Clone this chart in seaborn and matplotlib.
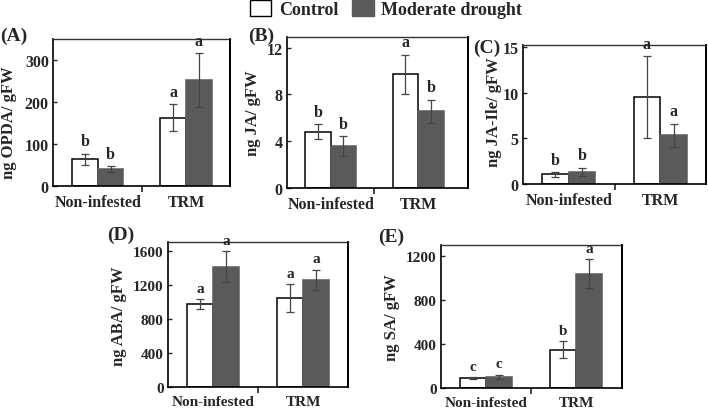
import matplotlib
matplotlib.use("Agg")
import matplotlib.pyplot as plt
import seaborn as sns
import pandas as pd
from matplotlib.patches import Patch
from matplotlib.ticker import FixedLocator

sns.set_style("ticks")
plt.rcParams['font.family'] = ['Liberation Serif', 'DejaVu Serif']
plt.rcParams['font.weight'] = 'bold'

categories = ["Non-infested", "TRM"]
treatments = ["Control", "Moderate drought"]

opda_mean = [[64, 163], [40, 252]]
opda_err = [[13, 33], [7, 65]]
opda_letters = [["b", "a"], ["b", "a"]]

ja_mean = [[4.8, 9.7], [3.55, 6.55]]
ja_err = [[0.65, 1.7], [0.85, 1.0]]
ja_letters = [["b", "a"], ["b", "b"]]

jaile_mean = [[1.05, 9.5], [1.35, 5.35]]
jaile_err = [[0.25, 4.45], [0.45, 1.25]]
jaile_letters = [["b", "a"], ["b", "a"]]

aba_mean = [[980, 1050], [1420, 1265]]
aba_err = [[60, 165], [185, 120]]
aba_letters = [["a", "a"], ["a", "a"]]

sa_mean = [[90, 350], [100, 1040]]
sa_err = [[10, 80], [22, 135]]
sa_letters = [["c", "b"], ["c", "a"]]

panels = [
    ("(A)", "ng OPDA/ gFW", opda_mean, opda_err, opda_letters, [0, 100, 200, 300], 350,
     (53, 230, 40, 187), (-0.51, 1.5), (0, 28), (9, 123), 11.5),
    ("(B)", "ng JA/ gFW", ja_mean, ja_err, ja_letters, [0, 4, 8, 12], 12.9,
     (287, 468, 38, 189), (-0.5, 1.57), (248, 28), (253, 113), 11.5),
    ("(C)", "ng JA-Ile/ gFW", jaile_mean, jaile_err, jaile_letters, [0, 5, 10, 15], 15.2,
     (523, 706, 46, 185), (-0.5, 1.5), (473, 40), (494, 112), 11.5),
    ("(D)", "ng ABA/ gFW", aba_mean, aba_err, aba_letters, [0, 400, 800, 1200, 1600], 1710,
     (168, 348, 243, 388), (-0.5, 1.5), (107, 227), (119, 316), 11),
    ("(E)", "ng SA/ gFW", sa_mean, sa_err, sa_letters, [0, 400, 800, 1200], 1300,
     (441, 622, 246, 389), (-0.5, 1.51), (378, 229), (392, 318), 11),
]

W, H = 708, 414
fig = plt.figure(figsize=(W / 100, H / 100), dpi=100)
colors = {"Control": "white", "Moderate drought": "#5a5a5a"}

for label, ylab, mean, err, letters, yticks, ytop, (l, r, t, b), xlim, lab_pos, ylab_pos, fs in panels:
    ax = fig.add_axes([l / W, (H - b) / H, (r - l) / W, (b - t) / H])
    rows = []
    for ti, tr in enumerate(treatments):
        for ci, cat in enumerate(categories):
            rows.append({"cat": cat, "trt": tr, "val": mean[ti][ci]})
    df = pd.DataFrame(rows)
    sns.barplot(data=df, x="cat", y="val", hue="trt", order=categories, hue_order=treatments,
                palette=colors, width=0.58, errorbar=None, legend=False, ax=ax,
                edgecolor="black", linewidth=1.1)
    bars = ax.patches
    k = 0
    for ti, tr in enumerate(treatments):
        for ci, cat in enumerate(categories):
            p = bars[k]
            k += 1
            if tr == "Moderate drought":
                p.set_edgecolor("#5a5a5a")
            cx = p.get_x() + p.get_width() / 2
            v = mean[ti][ci]
            e = err[ti][ci]
            ax.errorbar(cx, v, yerr=e, color="#444444", lw=0.9, capsize=3, capthick=0.9)
            ax.annotate(letters[ti][ci], (cx, v + e), xytext=(0, 3), textcoords="offset points",
                        ha="center", va="bottom", fontsize=fs, fontweight="bold")
    ax.set_xlim(*xlim)
    ax.set_ylim(0, ytop)
    ax.set_yticks(yticks)
    ax.set_xticks([0, 1])
    ax.set_xticklabels(categories, fontsize=fs, fontweight="bold")
    ax.xaxis.set_minor_locator(FixedLocator([0.5]))
    ax.tick_params(axis="x", which="major", length=0, pad=6)
    ax.tick_params(axis="x", which="minor", length=4, width=1.2, direction="out")
    ax.tick_params(axis="y", direction="in", length=3, width=1, labelsize=fs, pad=3)
    for tl in ax.get_yticklabels():
        tl.set_fontweight("bold")
    ax.set_xlabel("")
    ax.set_ylabel("")
    for s in ["left", "bottom", "right", "top"]:
        ax.spines[s].set_visible(True)
        ax.spines[s].set_linewidth(1.2)
        ax.spines[s].set_color("black")
    ax.spines["top"].set_linewidth(1.0)
    ax.spines["top"].set_color("#333333")
    # explicit right border
    ax.plot([1, 1], [0, 1], transform=ax.transAxes, color="black", lw=1.3,
            clip_on=False, zorder=5)
    fig.text(lab_pos[0] / W, 1 - lab_pos[1] / H, label, fontsize=14, fontweight="bold",
             ha="left", va="top")
    fig.text(ylab_pos[0] / W, 1 - ylab_pos[1] / H, ylab, fontsize=12, fontweight="bold",
             rotation=90, ha="center", va="center")

handles = [Patch(facecolor="white", edgecolor="black", linewidth=1),
           Patch(facecolor="#5a5a5a", edgecolor="#5a5a5a")]
fig.legend(handles, treatments, loc="center", bbox_to_anchor=(386 / W, 1 - 10 / H),
           ncol=2, frameon=False, prop={"family": "Liberation Serif", "weight": "bold", "size": 13},
           handlelength=1.2, handleheight=1.0, handletextpad=0.4, columnspacing=0.8,
           borderaxespad=0, borderpad=0)

fig.savefig("out.png", dpi=100)
